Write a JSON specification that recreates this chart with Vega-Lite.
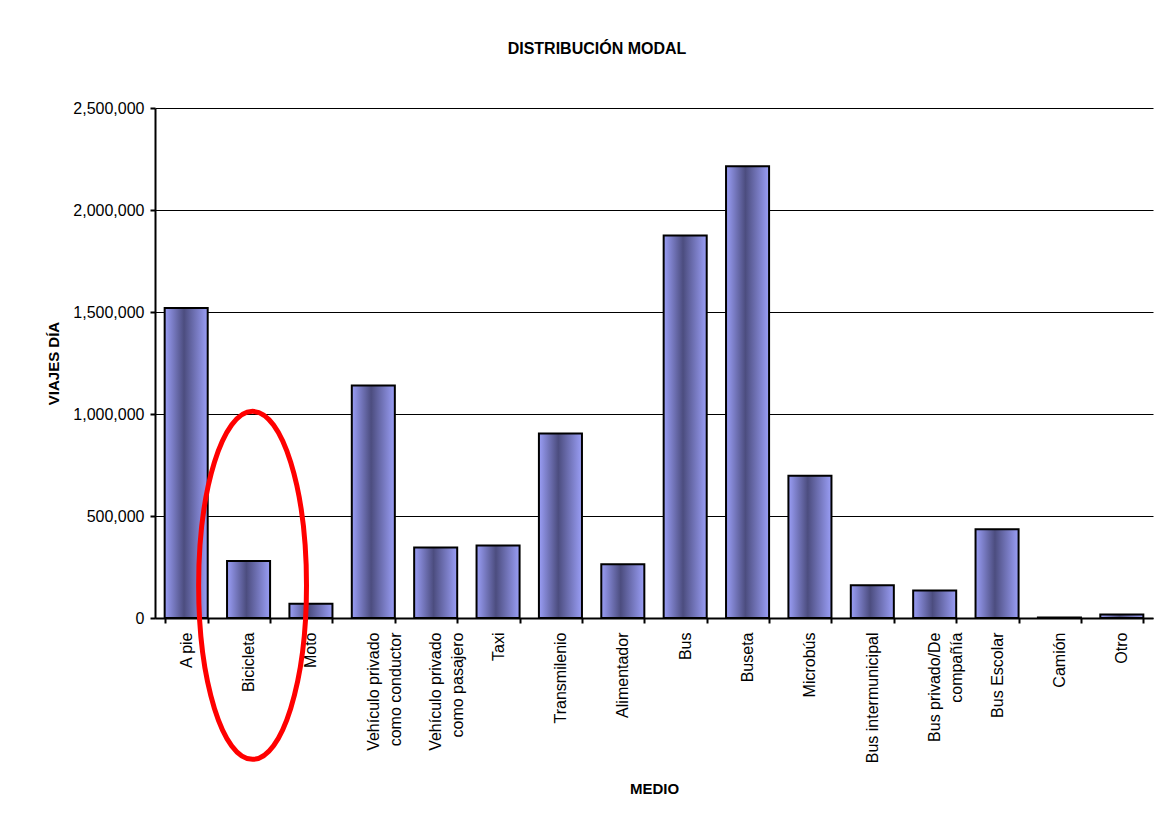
{
  "$schema": "https://vega.github.io/schema/vega-lite/v6.json",
  "width": 998,
  "height": 510,
  "autosize": "none",
  "padding": {"left": 155, "top": 108, "right": 14, "bottom": 207},
  "background": "white",
  "title": {
    "text": "DISTRIBUCIÓN MODAL",
    "font": "Liberation Sans",
    "fontSize": 16,
    "fontWeight": "bold",
    "color": "black",
    "anchor": "middle",
    "offset": 43,
    "dx": -57
  },
  "data": {
    "values": [
      {"medio": "A pie", "viajes": 1520000},
      {"medio": "Bicicleta", "viajes": 280000},
      {"medio": "Moto", "viajes": 70000},
      {"medio": "Vehículo privado\ncomo conductor", "viajes": 1140000},
      {"medio": "Vehículo privado\ncomo pasajero", "viajes": 345000},
      {"medio": "Taxi", "viajes": 355000},
      {"medio": "Transmilenio", "viajes": 905000},
      {"medio": "Alimentador", "viajes": 263000},
      {"medio": "Bus", "viajes": 1875000},
      {"medio": "Buseta", "viajes": 2215000},
      {"medio": "Microbús", "viajes": 697000},
      {"medio": "Bus intermunicipal", "viajes": 160000},
      {"medio": "Bus privado/De\ncompañía", "viajes": 135000},
      {"medio": "Bus Escolar", "viajes": 435000},
      {"medio": "Camión", "viajes": 3000},
      {"medio": "Otro", "viajes": 17000}
    ]
  },
  "layer": [
    {
      "mark": {
        "type": "bar",
        "color": {
          "gradient": "linear",
          "x1": 0, "y1": 0, "x2": 1, "y2": 0,
          "stops": [
            {"offset": 0, "color": "#9a9ef6"},
            {"offset": 0.45, "color": "#4c4d7f"},
            {"offset": 1, "color": "#9a9ef6"}
          ]
        },
        "stroke": "black",
        "strokeWidth": 2
      },
      "encoding": {
        "x": {
          "field": "medio",
          "type": "nominal",
          "sort": null,
          "title": "MEDIO",
          "scale": {"paddingInner": 0.31, "paddingOuter": 0.155},
          "axis": {
            "tickBand": "extent",
            "tickSize": 5,
            "tickWidth": 2,
            "tickColor": "black",
            "domainColor": "black",
            "domainWidth": 2,
            "labelAngle": 270,
            "labelAlign": "right",
            "labelBaseline": "middle",
            "labelPadding": 9,
            "labelFontSize": 16,
            "labelLineHeight": 22,
            "labelExpr": "split(datum.label, '\\n')",
            "titleFontSize": 15,
            "titleFontWeight": "bold",
            "titlePadding": 19,
            "grid": false
          }
        },
        "y": {
          "field": "viajes",
          "type": "quantitative",
          "title": "VIAJES DÍA",
          "scale": {"domain": [0, 2500000], "nice": false},
          "axis": {
            "values": [0, 500000, 1000000, 1500000, 2000000, 2500000],
            "format": ",d",
            "grid": true,
            "gridColor": "black",
            "gridWidth": 1,
            "gridOpacity": 1,
            "tickSize": 5,
            "tickWidth": 2,
            "tickColor": "black",
            "domainColor": "black",
            "domainWidth": 2,
            "labelFontSize": 16,
            "labelPadding": 6,
            "titleFontSize": 15,
            "titleFontWeight": "bold",
            "titlePadding": 11
          }
        }
      }
    },
    {
      "transform": [{"filter": "datum.medio === 'Bicicleta'"}],
      "mark": {
        "type": "point",
        "shape": "M0,-1A0.31,1 0 1,1 0,1A0.31,1 0 1,1 0,-1Z",
        "size": 121104,
        "filled": false,
        "stroke": "#ff0000",
        "strokeWidth": 5,
        "opacity": 1,
        "xOffset": 4
      },
      "encoding": {
        "x": {"field": "medio", "type": "nominal", "sort": null, "title": "MEDIO"},
        "y": {"datum": 160000, "type": "quantitative", "title": "VIAJES DÍA"}
      }
    }
  ],
  "config": {
    "view": {"stroke": null},
    "axis": {
      "labelFont": "Liberation Sans",
      "titleFont": "Liberation Sans",
      "labelColor": "black",
      "titleColor": "black"
    }
  }
}
